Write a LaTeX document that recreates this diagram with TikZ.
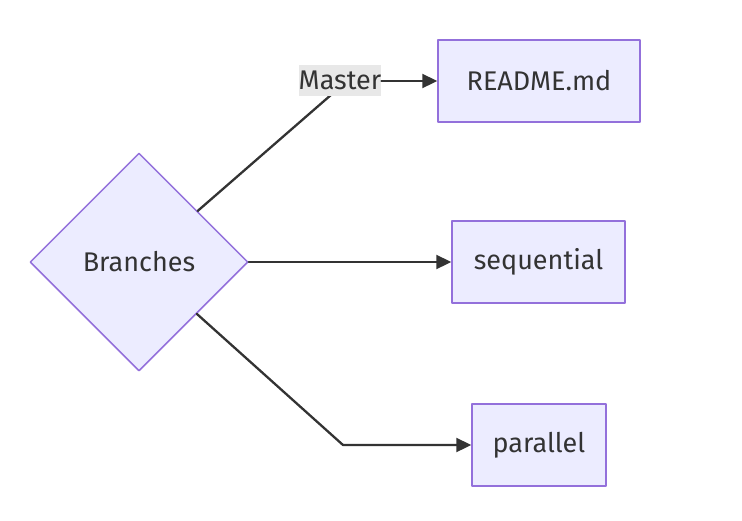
\documentclass[tikz,border=0pt]{standalone}
\usepackage{fontspec}
\setmainfont{Fira Sans}
\usetikzlibrary{shapes.geometric,arrows.meta}
\definecolor{boxfill}{HTML}{ECECFF}
\definecolor{boxline}{HTML}{9370DB}
\definecolor{ink}{HTML}{333333}
\definecolor{tagfill}{HTML}{E8E8E8}
\begin{document}
\begin{tikzpicture}[x=1pt,y=-1pt,
    >={Triangle[length=15pt,width=14pt]},line cap=round,line join=round,
    every node/.style={text=ink,font=\fontsize{27}{32}\selectfont},
    branch/.style={diamond,draw=boxline,fill=boxfill,line width=1.5pt,
      minimum width=218pt,minimum height=218pt,inner sep=0pt},
    leaf/.style={rectangle,draw=boxline,fill=boxfill,line width=1.5pt,
      minimum height=82pt,inner sep=0pt},
    edge/.style={draw=ink,line width=2.3pt},
    tag/.style={fill=tagfill,inner xsep=0pt,inner ysep=2pt,minimum height=31pt}]
    \useasboundingbox (0,0) rectangle (742,520);
    % The decision node and its three targets.
    \node[branch] (branches) at (139,262) {Branches};
    \node[leaf,minimum width=202pt] (readme) at (539,81) {README.md};
    \node[leaf,minimum width=173pt] (sequential) at (538.5,262) {sequential};
    \node[leaf,minimum width=134pt] (parallel) at (539,445) {parallel};
    % Bends of the routed connectors.
    \coordinate (bendtop) at (347,81);
    \coordinate (bendlow) at (343,445);
    \coordinate (bendmid) at (345,262);
    \draw[edge] (branches) -- (bendtop);
    \node[tag] (master) at (340,80) {Master};
    \draw[edge,->] (master.east |- readme.west) -- (readme.west);
    \draw[edge,->] (branches.east) -- (bendmid) -- (sequential.west);
    \draw[edge,->] (branches) -- (bendlow) -- (parallel.west);
  \end{tikzpicture}
\end{document}
